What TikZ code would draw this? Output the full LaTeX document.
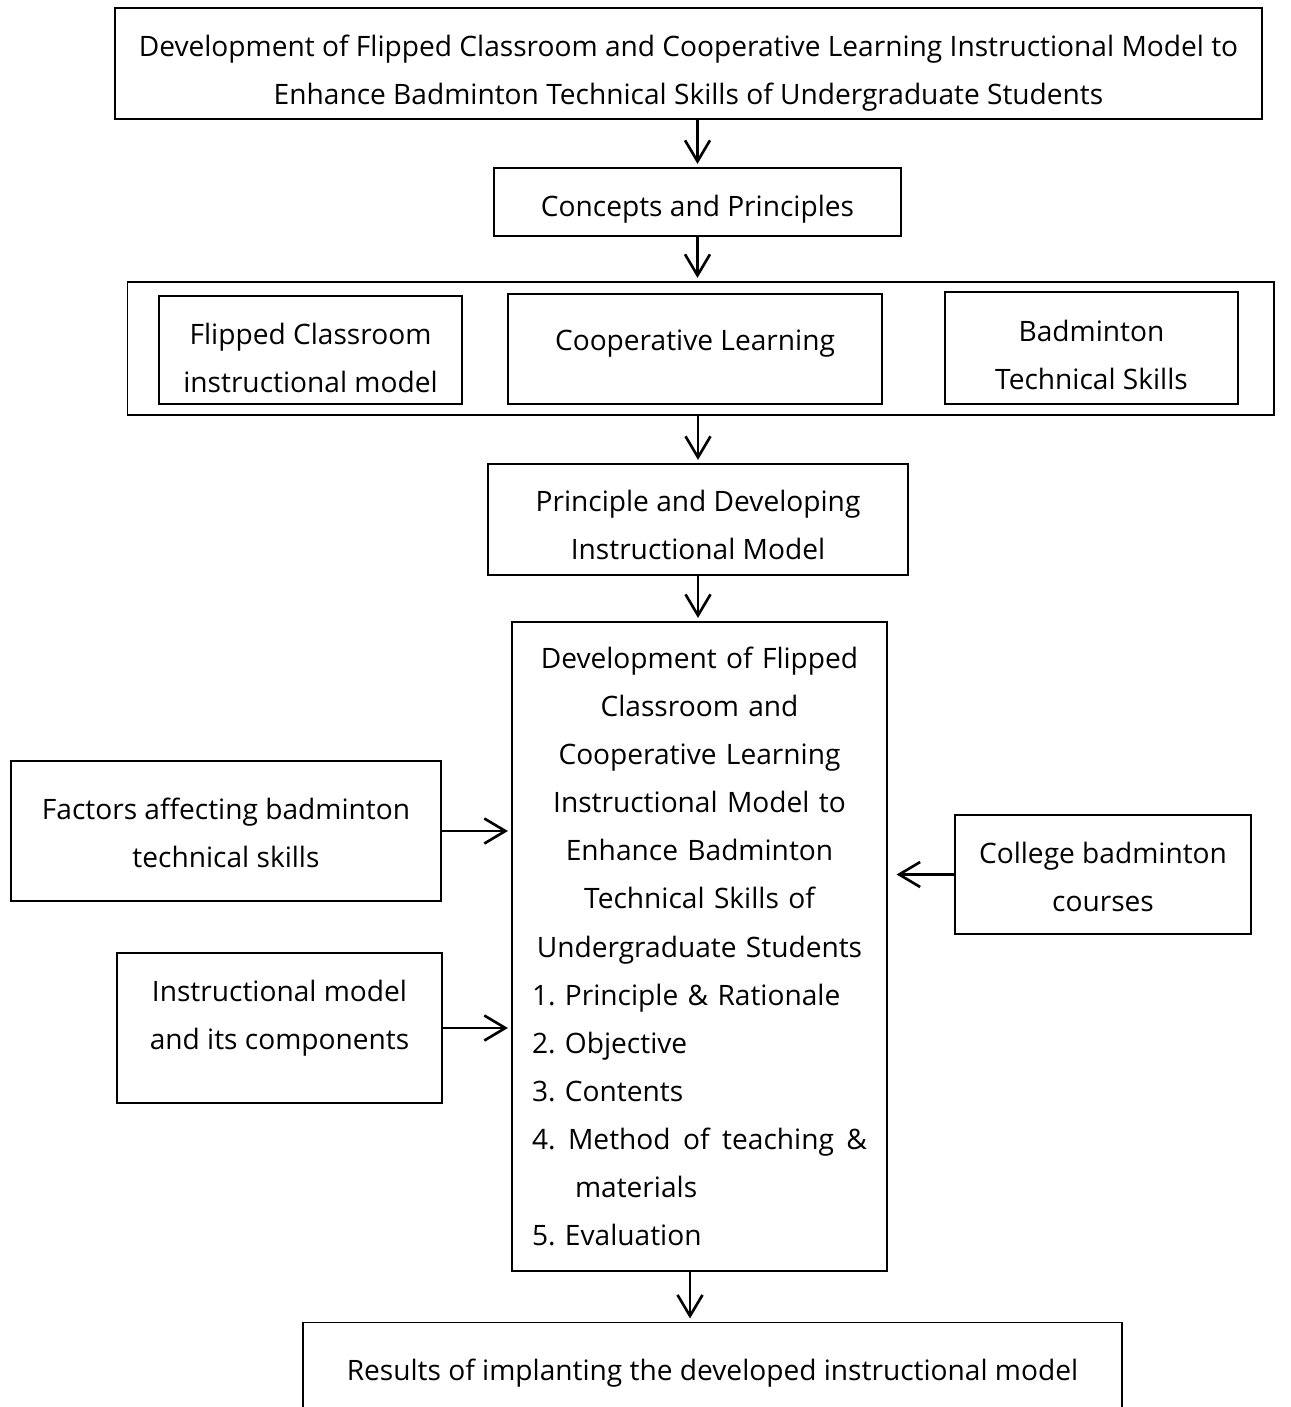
\documentclass[tikz,border=0pt]{standalone}
\usepackage{fontspec}
\setmainfont{Open Sans}
\frenchspacing
\usetikzlibrary{arrows.meta,positioning,calc}
\newcommand{\fwfont}{\fontsize{16}{27.4}\selectfont}
\newcommand{\fwitem}[1]{\makebox[6.7cm][l]{#1}}
% lines of a box, moved up or down without changing the box
\newcommand{\fwtext}[2][0pt]{\raisebox{#1}[\height][\depth]{\begin{tabular}{@{}c@{}}#2\end{tabular}}}
\tikzset{
    fw box/.style={
        draw=black,
        line width=0.7pt,
        inner sep=0pt,
        align=center,
        font=\fwfont
    },
    fw arrow/.style={-{Straight Barb[length=0.42cm,width=0.5cm]}, line width=1.5pt, shorten >=2pt}
}
\begin{document}
\begin{tikzpicture}[x=0.02cm,y=-0.02cm]
\useasboundingbox (0,0) rectangle (1291,1407);
% top of the framework
\node[fw box, minimum width=22.94cm, minimum height=2.22cm] (title) at (688.5,63.5)
    {\fwtext[-0.15cm]{Development of Flipped Classroom and Cooperative Learning Instructional Model to\\
     Enhance Badminton Technical Skills of Undergraduate Students}};
\node[fw box, minimum width=8.14cm, minimum height=1.36cm] (concepts) at (697.5,202) {\fwtext[-0.1cm]{Concepts and Principles}};

% three concepts
\node[fw box, minimum width=22.94cm, minimum height=2.66cm] (group) at (700.5,348.5) {};
\node[fw box, minimum width=6.06cm, minimum height=2.16cm] (flipped) at (310.5,350) {\fwtext[-0.17cm]{Flipped Classroom\\ instructional model}};
\node[fw box, minimum width=7.48cm, minimum height=2.2cm] (coop) at (695,349) {\fwtext[0.16cm]{Cooperative Learning}};
\node[fw box, minimum width=5.86cm, minimum height=2.24cm] (skills) at (1091.5,348) {\fwtext[-0.15cm]{Badminton\\ Technical Skills}};

\node[fw box, minimum width=8.4cm, minimum height=2.22cm] (principle) at (698,519.5) {\fwtext[-0.13cm]{Principle and Developing\\ Instructional Model}};

% the model
\node[fw box, minimum width=7.5cm, minimum height=12.98cm, text width=6.7cm] (model) at (699.5,946.5)
    {Development of Flipped\\ Classroom and\\ Cooperative Learning\\ Instructional Model to\\
     Enhance Badminton\\ Technical Skills of\\ Undergraduate Students\\
     \fwitem{1. Principle \& Rationale}\\
     \fwitem{2. Objective}\\
     \fwitem{3. Contents}\\
     \fwitem{4.\hfill Method\hfill of\hfill teaching\hfill\&}\\
     \fwitem{\hspace{0.86cm}materials}\\
     \fwitem{5. Evaluation}};

% inputs
\node[fw box, minimum width=8.6cm, minimum height=2.8cm] (factors) at (226,831) {\fwtext[-0.06cm]{Factors affecting badminton\\ technical skills}};
\node[fw box, minimum width=6.5cm, minimum height=3.0cm] (components) at (279.5,1028) {\fwtext[0.24cm]{Instructional model\\ and its components}};
\node[fw box, minimum width=5.92cm, minimum height=2.38cm] (courses) at (1103,874.5) {\fwtext[-0.07cm]{College badminton\\ courses}};

\node[fw box, anchor=north, minimum width=16.38cm, minimum height=2.0cm] (results) at (712.5,1322)
    {\fwtext[0.04cm]{Results of implanting the developed instructional model}};

\draw[fw arrow] (title.south -| concepts.north) -- (concepts.north);
\draw[fw arrow] (concepts.south) -- (concepts.south |- group.north);
\draw[fw arrow] (group.south -| principle.north) -- (principle.north);
\draw[fw arrow] (principle.south) -- (principle.south |- model.north);
\draw[fw arrow] (factors.east) -- (factors.east -| model.west);
\draw[fw arrow] (components.east) -- (components.east -| model.west);
\draw[fw arrow, shorten >=0.18cm] (courses.west) -- (courses.west -| model.east);
\draw[fw arrow] ([xshift=-0.19cm]model.south) -- ([xshift=-0.19cm]model.south |- results.north);
\end{tikzpicture}
\end{document}
